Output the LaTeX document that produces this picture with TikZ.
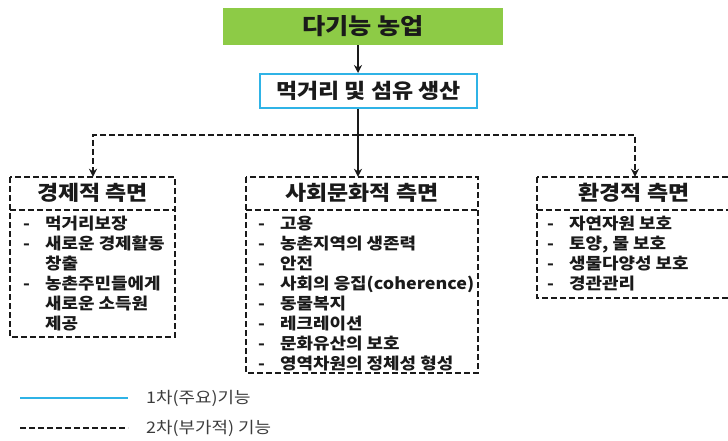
\documentclass[tikz,border=0pt]{standalone}
\usepackage{fontspec}
\usetikzlibrary{arrows.meta,calc}
\newfontfamily\kr{Noto Sans CJK KR}[FakeStretch=1.12]
\definecolor{titlegreen}{HTML}{8DCB46}
\definecolor{priblue}{HTML}{2FB3E6}
\definecolor{ink}{HTML}{1A1A1A}
\tikzset{
  x=1pt,y=-1pt,
  every node/.style={font=\kr, text=ink, inner sep=0pt},
  sec/.style={draw=ink, line width=2pt, dash pattern=on 6pt off 3pt},
  pri/.style={draw=ink, line width=2pt},
  arr/.style={-{Stealth[length=8pt,width=8pt]}},
  aspectbox/.style={sec, rectangle},
  header/.style={font=\kr\bfseries\fontsize{20.5}{22}\selectfont, anchor=center},
  itemlist/.style={anchor=north west, align=left, font=\kr\bfseries\fontsize{16}{20}\selectfont},
}
\newcommand{\itemtab}[1]{\begin{tabular}{@{}p{16pt}@{\hspace{6pt}}l@{}}#1\end{tabular}}
\begin{document}
\begin{tikzpicture}
\useasboundingbox (0,0) rectangle (728,441);
\clip (0,0) rectangle (728,441);
% title
\node[fill=titlegreen, minimum width=280pt, minimum height=37pt,
      font=\kr\bfseries\fontsize{22.5}{26}\selectfont] (title) at (363,26.5) {다기능 농업};
% primary production
\node[draw=priblue, line width=2pt, fill=white, minimum width=217pt, minimum height=34pt,
      font=\kr\bfseries\fontsize{20.5}{22}\selectfont] (prod) at (368.5,91) {먹거리 및 섬유 생산};
% aspect boxes
\path[aspectbox] (10,177) rectangle (175,337);
\node[minimum width=165pt, minimum height=160pt] (lbox) at (92.5,257) {};
\path[aspectbox] (246,177) rectangle (478,373);
\node[minimum width=232pt, minimum height=196pt] (cbox) at (362,275) {};
\path[aspectbox] (537,177) rectangle (732,298);
\node[minimum width=195pt, minimum height=121pt] (rbox) at (634.5,237.5) {};
% header separators
\draw[sec] (lbox.west |- 0,210) -- (lbox.east |- 0,210);
\draw[sec] (cbox.west |- 0,210) -- (cbox.east |- 0,210);
\draw[sec] (rbox.west |- 0,210) -- (rbox.east |- 0,210);
% headers
\node[header] (lhead) at (92.5,193) {경제적 측면};
\node[header] (chead) at (362,193) {사회문화적 측면};
\node[header] (rhead) at (634,193) {환경적 측면};
% items
\node[itemlist] (litems) at (23,215) {\itemtab{%
 - & 먹거리보장\\
 - & 새로운 경제활동\\
   & 창출\\
 - & 농촌주민들에게\\
   & 새로운 소득원\\
   & 제공}};
\node[itemlist] (citems) at (258,215) {\itemtab{%
 - & 고용\\
 - & 농촌지역의 생존력\\
 - & 안전\\
 - & 사회의 응집(coherence)\\
 - & 동물복지\\
 - & 레크레이션\\
 - & 문화유산의 보호\\
 - & 영역차원의 정체성 형성}};
\node[itemlist] (ritems) at (547,215) {\itemtab{%
 - & 자연자원 보호\\
 - & 토양, 물 보호\\
 - & 생물다양성 보호\\
 - & 경관관리}};
% connectors
\coordinate (stem) at (358,0);
\coordinate (busC) at (358,135);
\coordinate (busL) at (93,135);
\coordinate (busR) at (635,135);
\draw[pri,arr] (title.south -| stem) -- (prod.north -| stem);
\draw[pri,arr] (prod.south -| stem) -- (cbox.north -| stem);
\draw[sec,arr] (busC) -- (busL) -- (lbox.north -| busL);
\draw[sec,arr] (busC) -- (busR) -- (rbox.north -| busR);
% legend
\coordinate (lg1a) at (20,398);
\coordinate (lg1b) at (128,398);
\coordinate (lg2a) at (20,428);
\coordinate (lg2b) at (128,428);
\draw[priblue, line width=2.5pt] (lg1a) -- (lg1b);
\draw[sec] (lg2a) -- (lg2b);
\node[anchor=west, text=ink!85, font=\kr\fontsize{16}{18}\selectfont] (lgt1) at (146,398) {1차(주요)기능};
\node[anchor=west, text=ink!85, font=\kr\fontsize{16}{18}\selectfont] (lgt2) at (146,428) {2차(부가적) 기능};
\end{tikzpicture}
\end{document}
